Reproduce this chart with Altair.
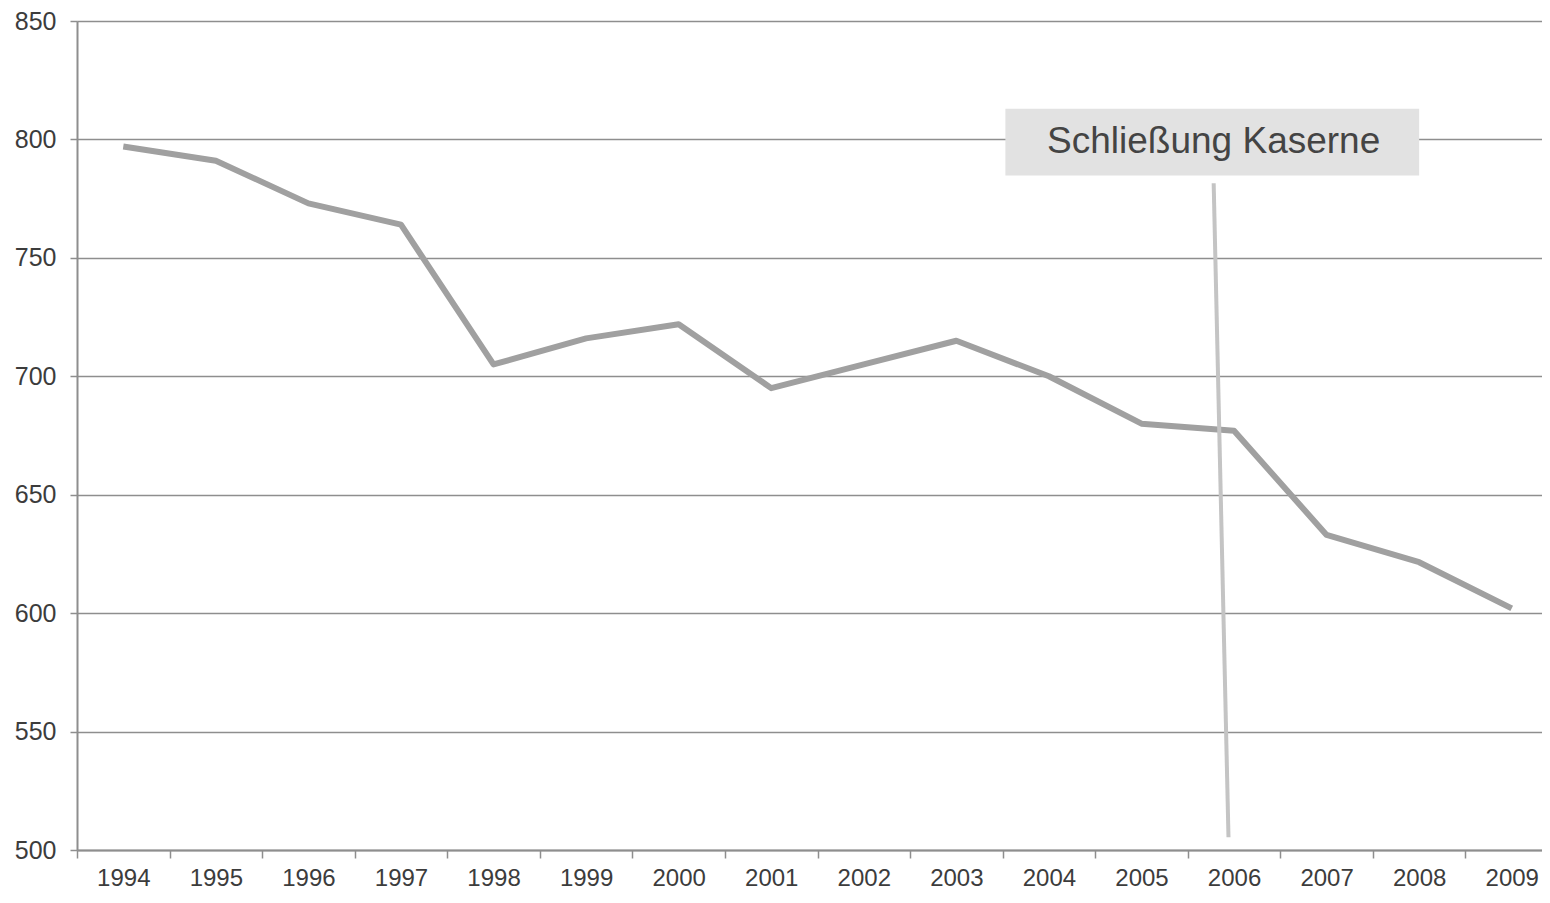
import altair as alt
import pandas as pd

years = [str(y) for y in range(1994, 2010)]
values = [797, 791, 773, 764, 705, 716, 722, 695, 705, 715, 700, 680, 677, 633, 621.5, 602]

note_text = ["Schließung Kaserne"]
box_x = [2003.53]
box_x2 = [2008.0]
box_y = [813.0]
box_y2 = [784.8]
text_x = [2005.78]
text_y = [799.0]
arrow_x = [2005.78]
arrow_x2 = [2005.94]
arrow_y = [781.5]
arrow_y2 = [505.4]

FONT = "Liberation Sans"
GRID = "#8e8e8e"
LBL = "#3c3c3c"
RANGE = [0, 1481]

df = pd.DataFrame({"year": years, "value": values})
ann = pd.DataFrame({
    "bx": box_x, "bx2": box_x2, "by": box_y, "by2": box_y2,
    "tx": text_x, "ty": text_y, "t": note_text,
    "ax": arrow_x, "ax2": arrow_x2, "ay": arrow_y, "ay2": arrow_y2,
})

yscale = alt.Scale(domain=[500, 850], nice=False, zero=False)
yaxis = alt.Axis(values=[500, 550, 600, 650, 700, 750, 800, 850], grid=True,
                 gridColor=GRID, gridWidth=1.5, domainColor=GRID, domainWidth=2,
                 tickColor=GRID, tickSize=7, tickWidth=1.5, labelFontSize=25,
                 labelFont=FONT, labelColor=LBL, labelPadding=14, title=None)

line = alt.Chart(df).mark_line(color="#a0a0a0", strokeWidth=6, strokeJoin="round").encode(
    x=alt.X("year:O", bandPosition=0.5,
            scale=alt.Scale(type="band", range=RANGE, paddingInner=0, paddingOuter=0),
            axis=alt.Axis(tickBand="extent", labelAngle=0, grid=False, domainColor=GRID,
                          domainWidth=2, tickColor=GRID, tickSize=8, tickWidth=1.5,
                          labelFontSize=24, labelFont=FONT, labelColor=LBL,
                          labelPadding=8, title=None)),
    y=alt.Y("value:Q", scale=yscale, axis=yaxis),
)

qx = alt.Scale(domain=[1993.5, 2009.5], range=RANGE, nice=False, zero=False)

box = alt.Chart(ann).mark_rect(color="#e2e2e2").encode(
    x=alt.X("bx:Q", scale=qx, axis=None), x2="bx2:Q",
    y=alt.Y("by:Q", scale=yscale, axis=yaxis), y2="by2:Q",
)
txt = alt.Chart(ann).mark_text(fontSize=37, font=FONT, color="#444444",
                               align="center", baseline="middle").encode(
    x=alt.X("tx:Q", scale=qx, axis=None),
    y=alt.Y("ty:Q", scale=yscale, axis=yaxis),
    text="t:N",
)
arrow = alt.Chart(ann).mark_rule(color="#c4c4c4", strokeWidth=4).encode(
    x=alt.X("ax:Q", scale=qx, axis=None), x2="ax2:Q",
    y=alt.Y("ay:Q", scale=yscale, axis=yaxis), y2="ay2:Q",
)

chart = alt.layer(line, box, txt, arrow).resolve_scale(x="independent").properties(
    width=1465, height=829,
    autosize=alt.AutoSizeParams(type="none"),
    padding={"left": 69, "top": 13, "right": 0, "bottom": 41},
).configure_view(stroke="transparent", strokeWidth=0).configure(background="white")

chart.save("out.html", embed_options={"renderer": "svg", "actions": False})
